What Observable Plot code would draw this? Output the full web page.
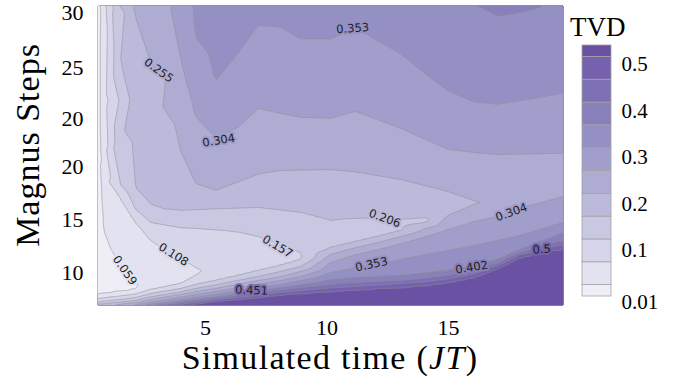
<!DOCTYPE html>
<html><head><meta charset="utf-8">
<script src="https://cdn.jsdelivr.net/npm/d3@7"></script>
<script src="https://cdn.jsdelivr.net/npm/@observablehq/plot@0.6"></script>
<style>
html,body{margin:0;padding:0;background:#fff;}
#chart{position:relative;width:690px;height:389px;overflow:hidden;background:#fff;}
.abs{position:absolute;}
.serif{font-family:"Liberation Serif","Times New Roman",serif;color:#000;white-space:nowrap;}
</style></head><body><div id="chart"></div>
<script>
// Contour levels of TVD (colour boundaries) and band colours
const levels = [0.01, 0.059, 0.108, 0.157, 0.206, 0.255, 0.304, 0.353, 0.402, 0.451, 0.5, 0.549];
const bandColors = ["#efeef6","#e3e2f0","#d6d5e9","#c9c8e2","#bcbadb","#aeacd3","#a19ecb","#9490c3","#8880bb","#7e70b4","#7561ad","#6a51a4"];

// Axis ticks
const xTicks = [5, 10, 15];
const yTickPos = [3.3, 8.6, 13.9, 18.7, 23.8, 29.3];
const yTickLabels = ["10", "15", "20", "20", "25", "30"];

// Colour-bar tick labels
const cbTicks = [0.1, 0.2, 0.3, 0.4, 0.5];
const cbTickBottom = 0.01;

// TVD samples: one profile per simulated time,
// each profile a list of [magnus step position, TVD]
const profileTimes = [0.55, 0.80, 1.09, 1.50, 2.12, 2.74, 3.35, 3.97, 4.59, 5.41, 6.32, 7.18, 8.09, 8.91, 10.14, 11.17, 12.08, 13.03, 14.05, 14.96, 16.03, 17.02, 17.96, 18.79, 19.73];
const profiles = [
 [[30,.035],[15.5,.035],[3.5,.035],[2.3,.03],[1.1,.059],[0.7,.108],[0.35,.157],[0.15,.206],[0,.24]],
 [[30,.088],[20.5,.088],[12.5,.085],[7.6,.059],[2.2,.035],[1.2,.059],[0.75,.108],[0.4,.157],[0.15,.206],[0,.25]],
 [[30,.145],[15.5,.14],[12.8,.108],[5.7,.059],[2.2,.04],[1.3,.059],[0.85,.108],[0.5,.157],[0.25,.206],[0,.26]],
 [[30,.215],[24.5,.206],[16.5,.197],[12.1,.157],[10.7,.108],[4,.059],[2.2,.045],[1.4,.059],[0.95,.108],[0.6,.157],[0.35,.206],[0.15,.255],[0,.28]],
 [[30,.262],[28.7,.255],[20.5,.232],[11.75,.206],[9.6,.157],[8.3,.108],[2.2,.059],[1.9,.056],[1.6,.059],[1.15,.108],[0.8,.157],[0.5,.206],[0.3,.255],[0.1,.304],[0,.33]],
 [[30,.276],[24.3,.255],[18,.232],[10.1,.206],[8.3,.157],[6.54,.108],[2.3,.066],[1.6,.108],[1.2,.157],[0.85,.206],[0.6,.255],[0.35,.304],[0.15,.353],[0,.42]],
 [[30,.293],[22.6,.255],[16,.232],[9.6,.206],[8.05,.157],[5.47,.108],[2.6,.078],[1.9,.108],[1.45,.157],[1.1,.206],[0.85,.255],[0.6,.304],[0.35,.353],[0.2,.402],[0.1,.451],[0,.5]],
 [[30,.323],[24.8,.304],[19.5,.27],[15.43,.255],[12.5,.232],[9.5,.206],[7.8,.157],[4.77,.108],[2.9,.09],[2.2,.108],[1.7,.157],[1.35,.206],[1.1,.255],[0.85,.304],[0.6,.353],[0.4,.402],[0.25,.451],[0.1,.5],[0,.56]],
 [[30,.36],[26.8,.353],[22.9,.33],[18.9,.304],[15.5,.28],[12.2,.255],[9.57,.206],[7.71,.157],[3.8,.108],[3.4,.105],[3,.108],[2.1,.157],[1.7,.206],[1.4,.255],[1.1,.304],[0.8,.353],[0.6,.402],[0.45,.451],[0.3,.5],[0.15,.549],[0,.6]],
 [[30,.375],[26.5,.366],[22.44,.353],[19.5,.327],[16.8,.304],[14,.28],[11.5,.255],[9.67,.206],[7.6,.157],[3.7,.115],[2.5,.157],[2.05,.206],[1.7,.255],[1.4,.304],[1.1,.353],[0.85,.402],[0.7,.451],[0.55,.5],[0.4,.549],[0,.62]],
 [[30,.375],[25.16,.353],[21.5,.33],[17.8,.304],[12.31,.255],[9.74,.206],[7.38,.157],[4.2,.125],[3,.157],[2.5,.206],[2.1,.255],[1.8,.304],[1.45,.353],[1.2,.402],[1,.451],[0.8,.5],[0.6,.549],[0,.63]],
 [[30,.365],[28.03,.353],[23.9,.33],[19.7,.304],[18,.291],[13.13,.255],[9.8,.206],[6.91,.157],[4.6,.135],[3.5,.157],[2.9,.206],[2.5,.255],[2.15,.304],[1.8,.353],[1.5,.402],[1.3,.451],[1.05,.5],[0.8,.549],[0,.63]],
 [[30,.37],[27.83,.353],[23.5,.33],[19.2,.304],[13.5,.255],[9.55,.206],[6.1,.157],[5,.145],[4,.157],[3.4,.206],[2.9,.255],[2.5,.304],[2.1,.353],[1.8,.402],[1.55,.451],[1.3,.5],[1.05,.549],[0,.63]],
 [[30,.375],[26.67,.353],[22.7,.33],[18.8,.304],[13.53,.255],[9.3,.206],[5.3,.157],[4.95,.153],[4.6,.157],[3.9,.206],[3.4,.255],[2.9,.304],[2.5,.353],[2.1,.402],[1.8,.451],[1.5,.5],[1.2,.549],[0,.63]],
 [[30,.375],[26.65,.353],[22.7,.33],[18.72,.304],[13.58,.255],[8.5,.206],[6.9,.165],[5.8,.206],[5.1,.255],[4.3,.304],[3.3,.353],[2.6,.402],[2.1,.451],[1.75,.5],[1.4,.549],[0,.62]],
 [[30,.375],[27.74,.353],[23.3,.33],[19.4,.304],[16.5,.281],[13.35,.255],[8.71,.206],[7.3,.175],[6.4,.206],[5.8,.255],[5.1,.304],[3.8,.353],[2.8,.402],[2.3,.451],[1.9,.5],[1.55,.549],[0,.62]],
 [[30,.38],[26.47,.353],[22.5,.33],[18.57,.304],[12.98,.255],[8.73,.206],[7.7,.185],[6.9,.206],[6.3,.255],[5.6,.304],[4.2,.353],[2.9,.402],[2.4,.451],[2.05,.5],[1.7,.549],[0,.62]],
 [[30,.385],[25.17,.353],[21.5,.33],[17.7,.304],[12.6,.255],[8.6,.206],[8.1,.195],[7.5,.206],[6.9,.255],[6.2,.304],[4.6,.353],[3,.402],[2.5,.451],[2.2,.5],[1.8,.549],[0,.62]],
 [[30,.39],[23.13,.353],[20,.33],[16.6,.304],[11.96,.255],[8.4,.2],[7.7,.255],[6.9,.304],[5.1,.353],[3.25,.402],[2.75,.451],[2.4,.5],[2,.549],[0,.62]],
 [[30,.393],[21.48,.353],[18.5,.33],[15.63,.304],[11.4,.255],[10,.235],[9,.255],[7.6,.304],[5.5,.353],[3.5,.402],[3,.451],[2.65,.5],[2.3,.549],[0,.62]],
 [[30,.401],[25.5,.38],[20.36,.353],[17.5,.33],[15.3,.304],[10.2,.252],[8.4,.304],[6,.353],[3.9,.402],[3.5,.451],[3.15,.5],[2.8,.549],[0,.62]],
 [[30,.41],[28.93,.402],[24.5,.378],[20.1,.353],[17.5,.33],[15.1,.304],[10.6,.262],[8.9,.304],[6.5,.353],[4.6,.402],[4.2,.451],[4,.5],[3.7,.549],[0,.62]],
 [[30,.41],[29.31,.402],[24.5,.376],[20.48,.353],[17.5,.325],[15.13,.304],[11.4,.266],[9.8,.304],[7,.353],[5.6,.402],[5.3,.451],[5.1,.5],[4.8,.549],[0,.62]],
 [[30,.403],[29.82,.402],[24.5,.373],[20.82,.353],[17.5,.324],[15.17,.304],[12,.27],[10.3,.304],[7.6,.353],[6.4,.402],[6,.451],[5.6,.5],[5.3,.549],[0,.62]],
 [[30,.39],[21.2,.353],[17.5,.323],[15.2,.304],[12.7,.272],[10.9,.304],[8.3,.353],[7.3,.402],[6.5,.451],[6.1,.5],[5.7,.549],[0,.62]]
];

// Inline contour labels
const labelText  = ["0.059","0.108","0.157","0.206","0.255","0.304","0.353","0.304","0.353","0.402","0.5","0.451"];
const labelLevel = [0.059, 0.108, 0.157, 0.206, 0.255, 0.304, 0.353, 0.304, 0.353, 0.402, 0.5, 0.451];
const labelT     = [1.67, 3.68, 7.96, 12.37, 3.07, 5.54, 11.05, 17.59, 11.83, 15.95, 18.83, 6.89];
const labelS     = [3.5, 5.1, 5.9, 8.7, 23.5, 16.5, 27.7, 9.3, 4.1, 3.8, 5.6, 1.5];
const labelAngle = [55, 32, 31, 20, 36, -9, -4, -20, -12, -9, -3, 2];

// ---- tables built from the arrays ----
const samples = profileTimes.flatMap((t, i) => profiles[i].map(([s, v]) => ({t, s, tvd: v})));
const labels = labelText.map((label, i) => ({label, level: labelLevel[i], t: labelT[i], s: labelS[i], angle: labelAngle[i]}));
const half = (levels[1] - levels[0]) / 2;
const cbBands = levels.map(L => ({level: L, lo: Math.max(levels[0], L - half), hi: Math.min(levels[levels.length - 1], L + half)}));

const colorScale = {type: "threshold", domain: levels.slice(1), range: bandColors};
const serif = "Liberation Serif, Times New Roman, serif";

const main = Plot.plot({
  width: 570, height: 389,
  marginLeft: 97, marginRight: 7, marginTop: 5, marginBottom: 84,
  style: {background: "transparent", overflow: "visible"},
  x: {domain: [0.55, 19.73]},
  y: {domain: [0, 30]},
  color: colorScale,
  marks: [
    Plot.contour(samples, {x: "t", y: "s", fill: "tvd", interpolate: "barycentric", thresholds: levels,
      stroke: "#8e8e8e", strokeOpacity: 0.62, strokeWidth: 0.9}),
    Plot.text(labels, {x: "t", y: "s", text: "label", rotate: "angle", fill: "#1e1e1e",
      stroke: "level", strokeWidth: 4, fontSize: 11.5, fontFamily: "DejaVu Sans, sans-serif"}),
    Plot.axisX(xTicks, {tickSize: 0, tickPadding: 14, fontSize: 22, fontFamily: serif, label: null,
      tickFormat: d => String(d), fill: "#000"}),
    Plot.axisY(yTickPos, {tickSize: 0, tickPadding: 14, fontSize: 22, fontFamily: serif, label: null,
      tickFormat: d => yTickLabels[yTickPos.indexOf(d)], fill: "#000"})
  ]
});

const cb = Plot.plot({
  width: 120, height: 389,
  marginLeft: 12, marginRight: 79, marginTop: 45, marginBottom: 93,
  style: {background: "transparent", overflow: "visible"},
  x: {domain: [0, 1], axis: null},
  y: {domain: [levels[0], levels[levels.length - 1]]},
  color: colorScale,
  marks: [
    Plot.rect(cbBands, {x1: 0, x2: 1, y1: "lo", y2: "hi", fill: "level", stroke: "#a3a3a3", strokeWidth: 0.8}),
    Plot.axisY(cbTicks, {anchor: "right", tickSize: 0, tickPadding: 10, fontSize: 21, fontFamily: serif,
      label: null, dy: -4, tickFormat: d => String(d), fill: "#000"}),
    Plot.axisY([cbTickBottom], {anchor: "right", tickSize: 0, tickPadding: 10, fontSize: 21, fontFamily: serif,
      label: null, dy: 6, tickFormat: d => String(d), fill: "#000"})
  ]
});

const chart = document.getElementById("chart");
main.style.position = "absolute"; main.style.left = "0px"; main.style.top = "0px";
cb.style.position = "absolute"; cb.style.left = "570px"; cb.style.top = "0px";
chart.appendChild(main);
chart.appendChild(cb);

function addText(html, css) {
  const d = document.createElement("div");
  d.className = "abs serif";
  d.innerHTML = html;
  Object.assign(d.style, css);
  chart.appendChild(d);
}
addText("Simulated time (<i>JT</i>)", {left: "0px", width: "660px", top: "344px", textAlign: "center",
  fontSize: "34px", lineHeight: "28px", letterSpacing: "1.3px"});
addText("Magnus Steps", {left: "28px", top: "145px", transform: "translate(-50%,-50%) rotate(-90deg)",
  fontSize: "34px", lineHeight: "34px", letterSpacing: "1px"});
addText("TVD", {left: "570px", top: "14px", fontSize: "27px", lineHeight: "27px"});
</script></body></html>
